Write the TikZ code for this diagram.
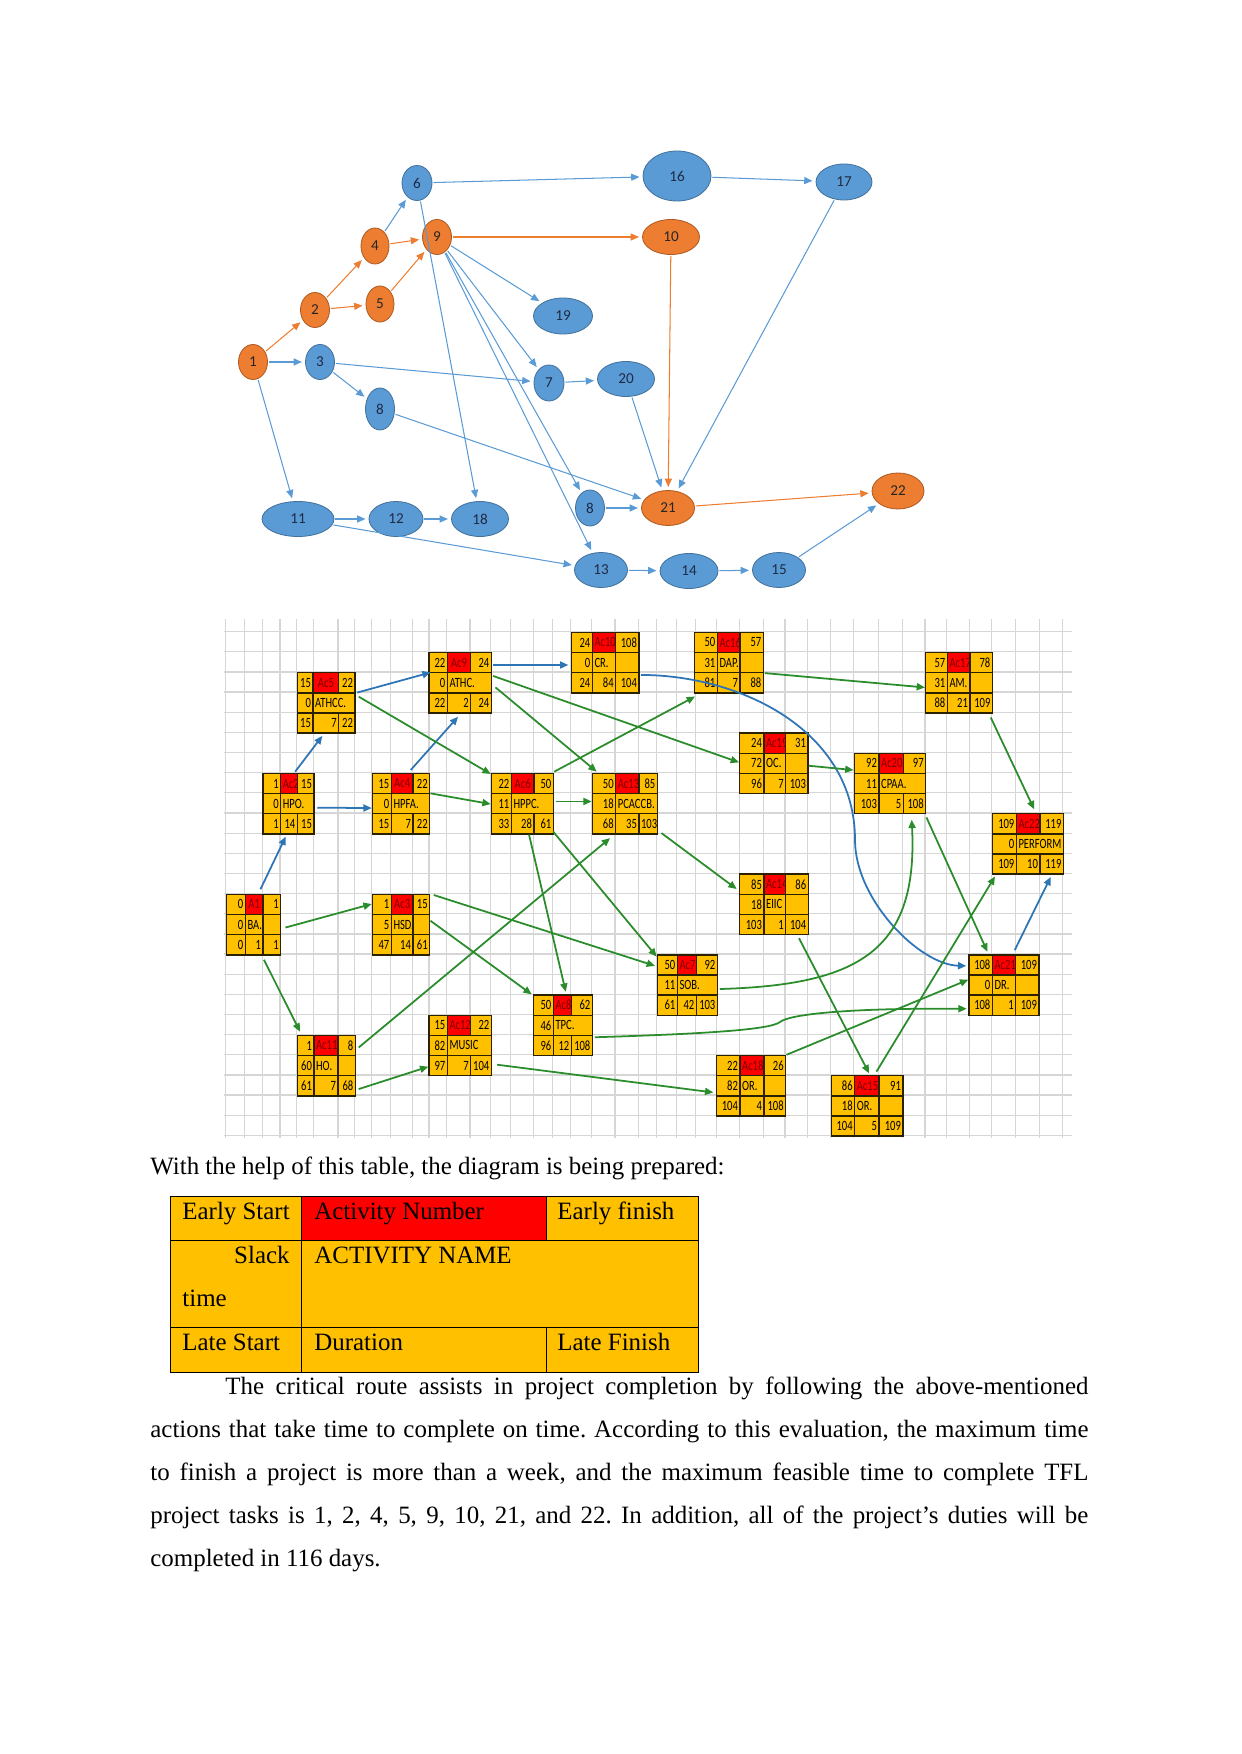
\documentclass[tikz,border=0pt]{standalone}
\usepackage{fontspec}
\setmainfont{Liberation Serif}
\newfontfamily\netfont{Carlito}
\newfontfamily\boxfont[FakeStretch=0.75]{Carlito}
\usetikzlibrary{shapes.geometric,arrows.meta}
\frenchspacing
\newlength\pxl \setlength\pxl{0.0169218cm}
\definecolor{nblue}{HTML}{5B9BD5}
\definecolor{nblueb}{HTML}{41719C}
\definecolor{norange}{HTML}{ED7D31}
\definecolor{noranged}{HTML}{AE5A21}
\definecolor{ntext}{HTML}{1F2A44}
\definecolor{gold}{HTML}{FFC000}
\definecolor{acred}{HTML}{FF0000}
\definecolor{actext}{HTML}{7A0000}
\definecolor{gline}{HTML}{2A8C2A}
\definecolor{bline}{HTML}{2E75B6}
\definecolor{gridc}{HTML}{D6D6D6}
\definecolor{boxln}{HTML}{2B2100}
\def\getfour#1,#2,#3,#4\relax{\def\xa{#1}\def\xb{#2}\def\xc{#3}\def\xd{#4}}
\def\getthree#1/#2/#3\relax{\def\ta{#1}\def\tb{#2}\def\tc{#3}}
\newcommand\actbox[6]{%
  \getfour#2\relax
  \pgfmathsetmacro\wA{(\xb-\xa)*0.48143}%
  \pgfmathsetmacro\wB{(\xc-\xb)*0.48143}%
  \pgfmathsetmacro\wC{(\xd-\xc)*0.48143}%
  \pgfmathsetmacro\wD{(\xd-\xb)*0.48143}%
  \pgfmathsetmacro\tA{\wA-2}%
  \pgfmathsetmacro\tB{\wB-2}%
  \pgfmathsetmacro\tC{\wC-2}%
  \pgfmathsetmacro\tD{\wD-2}%
  \pgfmathsetmacro\yA{#3}%
  \pgfmathsetmacro\yB{#3+20.15}%
  \pgfmathsetmacro\yC{#3+40.3}%
  \getthree#4\relax
  \node[cell, align=right, text width=\tA pt] (#1-es) at (\xa,\yA) {\ta};
  \node[cell, fill=acred, text=actext, align=center, text width=\tB pt] (#1-ac) at (\xb,\yA) {\tb};
  \node[cell, align=right, text width=\tC pt] (#1-ef) at (\xc,\yA) {\tc};
  \getthree#5\relax
  \node[cell, align=right, text width=\tA pt] (#1-sl) at (\xa,\yB) {\ta};
  \ifnum\tc=1
    \node[cell, align=left, text width=\tB pt] (#1-nm) at (\xb,\yB) {\tb};
    \node[cell, text width=\tC pt] (#1-nx) at (\xc,\yB) {};
  \else
    \node[cell, align=left, text width=\tD pt] (#1-nm) at (\xb,\yB) {\tb};
  \fi
  \getthree#6\relax
  \node[cell, align=right, text width=\tA pt] (#1-ls) at (\xa,\yC) {\ta};
  \node[cell, align=right, text width=\tB pt] (#1-du) at (\xb,\yC) {\tb};
  \node[cell, align=right, text width=\tC pt] (#1-lf) at (\xc,\yC) {\tc};
}
\tikzset{
  nb/.style={ellipse, draw=nblueb, fill=nblue, line width=0.4pt, inner sep=0pt, text=ntext, font=\netfont\fontsize{7.3}{8}\selectfont},
  no/.style={ellipse, draw=noranged, fill=norange, line width=0.4pt, inner sep=0pt, text=black!85, font=\netfont\fontsize{7.3}{8}\selectfont},
  eb/.style={draw=nblue, line width=0.5pt, -{Triangle[length=4pt,width=3.4pt]}, shorten >=1.5pt, shorten <=0.5pt},
  eo/.style={draw=norange, line width=0.5pt, -{Triangle[length=4pt,width=3.4pt]}, shorten >=1.5pt, shorten <=0.5pt},
  cell/.style={rectangle, draw=boxln, line width=0.7pt, fill=gold, anchor=north west, minimum height=20.15\pxl, inner xsep=1pt, inner ysep=0pt, font=\boxfont\fontsize{6.8}{7}\selectfont},
  gc/.style={draw=gline, line width=0.85pt, -{Triangle[length=4pt,width=3.4pt]}},
  bc/.style={draw=bline, line width=0.85pt, -{Triangle[length=4pt,width=3.4pt]}},
  gridln/.style={draw=gridc, line width=0.6pt},
  tcell/.style={draw=black, line width=0.5pt, fill=gold, anchor=north west, inner sep=0pt},
  txt/.style={anchor=base west, inner sep=0pt, font=\fontsize{12}{14}\selectfont}
}
\begin{document}
\begin{tikzpicture}[x=0.0169218cm,y=-0.0169218cm]
\useasboundingbox (0,0) rectangle (1241,1754);
% ---------------- network ----------------
\node[no, minimum width=29\pxl, minimum height=35\pxl] (n1) at (253,362) {1};
\node[no, minimum width=29\pxl, minimum height=35\pxl] (n2) at (315,310) {2};
\node[nb, minimum width=29\pxl, minimum height=35\pxl] (n3) at (320,362) {3};
\node[no, minimum width=28\pxl, minimum height=36\pxl] (n4) at (375,246) {4};
\node[no, minimum width=28\pxl, minimum height=36\pxl] (n5) at (380,304) {5};
\node[nb, minimum width=30\pxl, minimum height=35\pxl] (n6) at (417,183) {6};
\node[no, minimum width=29\pxl, minimum height=35\pxl] (n9) at (437,237) {9};
\node[nb, minimum width=68\pxl, minimum height=50\pxl] (n16) at (677,176) {16};
\node[nb, minimum width=56\pxl, minimum height=36\pxl] (n17) at (844,182) {17};
\node[no, minimum width=57\pxl, minimum height=35\pxl] (n10) at (671,237) {10};
\node[nb, minimum width=59\pxl, minimum height=36\pxl] (n19) at (563,316) {19};
\node[nb, minimum width=30\pxl, minimum height=36\pxl] (n7) at (549,383) {7};
\node[nb, minimum width=57\pxl, minimum height=35\pxl] (n20) at (626,379) {20};
\node[nb, minimum width=29\pxl, minimum height=42\pxl] (n8a) at (380,409) {8};
\node[nb, minimum width=72\pxl, minimum height=35\pxl] (n11) at (298,519) {11};
\node[nb, minimum width=54\pxl, minimum height=35\pxl] (n12) at (396,519) {12};
\node[nb, minimum width=57\pxl, minimum height=35\pxl] (n18) at (480,519) {18};
\node[nb, minimum width=29\pxl, minimum height=36\pxl] (n8b) at (590,508) {8};
\node[no, minimum width=53\pxl, minimum height=35\pxl] (n21) at (668,508) {21};
\node[nb, minimum width=53\pxl, minimum height=35\pxl] (n13) at (601,570) {13};
\node[nb, minimum width=58\pxl, minimum height=35\pxl] (n14) at (689,571) {14};
\node[nb, minimum width=53\pxl, minimum height=35\pxl] (n15) at (779,570) {15};
\node[no, minimum width=52\pxl, minimum height=36\pxl] (n22) at (898,491) {22};
\draw[eo] (n1) -- (n2);
\draw[eb] (n1) -- (n3);
\draw[eb] (n1) -- (n11);
\draw[eo] (n2) -- (n4);
\draw[eo] (n2) -- (n5);
\draw[eb] (n4) -- (n6);
\draw[eo] (n4) -- (n9);
\draw[eo] (n5) -- (n9);
\draw[eb] (n6) -- (n16);
\draw[eb] (n6) -- (n18);
\draw[eb] (n16) -- (n17);
\draw[eo] (n9) -- (n10);
\draw[eb] (n9) -- (n19);
\draw[eb] (n9) -- (n7);
\draw[eb] (n9) -- (n8b);
\draw[eb] (n9) -- (n13);
\draw[eb] (n3) -- (n7);
\draw[eb] (n3) -- (n8a);
\draw[eb] (n7) -- (n20);
\draw[eb] (n20) -- (n21);
\draw[eo] (n10) -- (n21);
\draw[eb] (n17) -- (n21);
\draw[eb] (n8a) -- (n21);
\draw[eb] (n8b) -- (n21);
\draw[eo] (n21) -- (n22);
\draw[eb] (n11) -- (n12);
\draw[eb] (n12) -- (n18);
\draw[eb] (n11) -- (n13);
\draw[eb] (n13) -- (n14);
\draw[eb] (n14) -- (n15);
\draw[eb] (n15) -- (n22);
% ---------------- grid ----------------
\begin{scope}
\clip (224,619) rectangle (1072,1138);
\foreach \x in {208,225.7,244.7,262.3,280,296.7,313.3,338,354.3,371.7,390.7,412.3,429,446.7,470,490.7,510.7,533.3,552.7,570.7,591.7,615,638.3,656.7,676.7,695.7,716.3,739.2,763.3,785,807.5,830.7,853.7,878.3,902.5,925,946.7,969.3,991.7,1015.5,1039.3,1062.7,1085}
  \draw[gridln] (\x,619) -- (\x,1138);
\foreach \k in {0,...,26}
  \draw[gridln] (224,{611.5+20.15*\k}) -- (1072,{611.5+20.15*\k});
\end{scope}
\actbox{a5}{296.7,312.3,338,354.3}{671.95}{15/Ac5/22}{0/ATHCC./0}{15/7/22}
\actbox{a9}{428.3,446.7,470,490.7}{651.8}{22/Ac9/24}{0/ATHC./0}{22/2/24}
\actbox{a10}{570.7,591.7,615,638.3}{631.65}{24/Ac10/108}{0/CR./1}{24/84/104}
\actbox{a16}{694,716.7,739.3,762.7}{631.65}{50/Ac16/57}{31/DAP./1}{81/7/88}
\actbox{a17}{925,946.7,969.3,991.7}{651.8}{57/Ac17/78}{31/AM./1}{88/21/109}
\actbox{a19}{739,763.3,785,807.3}{732.4}{24/Ac19/31}{72/OC./1}{96/7/103}
\actbox{a20}{853.5,878.3,902.7,925}{752.55}{92/Ac20/97}{11/CPAA./0}{103/5/108}
\actbox{a2}{262.3,280,296.7,313.3}{772.7}{1/Ac2/15}{0/HPO./0}{1/14/15}
\actbox{a4}{371.7,390.7,412.3,429}{772.7}{15/Ac4/22}{0/HPFA./0}{15/7/22}
\actbox{a6}{490.7,510.7,533.3,552.7}{772.7}{22/Ac6/50}{11/HPPC./0}{33/28/61}
\actbox{a13}{591.7,615,638.3,656.7}{772.7}{50/Ac13/85}{18/PCACCB./0}{68/35/103}
\actbox{a22}{991.7,1015.7,1039.3,1062.7}{813}{109/Ac22/119}{0/PERFORM/0}{109/10/119}
\actbox{a1}{225.7,244.7,262.3,280}{893.6}{0/A1/1}{0/BA./1}{0/1/1}
\actbox{a3}{371.7,390.7,412.3,429}{893.6}{1/Ac3/15}{5/HSD./1}{47/14/61}
\actbox{a14}{739,763.3,785,807.5}{873.45}{85/Ac14/86}{18/EIIC/1}{103/1/104}
\actbox{a21}{968.3,991.7,1015,1038.3}{954.05}{108/Ac21/109}{0/DR./1}{108/1/109}
\actbox{a7}{656.7,676.7,695.7,716.7}{954.05}{50/Ac7/92}{11/SOB./0}{61/42/103}
\actbox{a8}{532.7,552.7,570.7,591.7}{994.35}{50/Ac8/62}{46/TPC./0}{96/12/108}
\actbox{a12}{428.3,446.7,470,490.7}{1014.5}{15/Ac12/22}{82/MUSIC/0}{97/7/104}
\actbox{a11}{296.7,313.3,337.3,354.7}{1034.65}{1/Ac11/8}{60/HO./1}{61/7/68}
\actbox{a18}{716,739.3,763.3,785}{1054.8}{22/Ac18/26}{82/OR./1}{104/4/108}
\actbox{a15}{830.7,854,878.3,902.3}{1074.95}{86/Ac15/91}{18/OR./1}{104/5/109}
% blue connectors
\draw[bc] ([shift={(-3,-1)}]a2-ac.north east) -- ([shift={(-3.5,2)}]a5-du.south);
\draw[bc] ([shift={(2.5,4)}]a2-nm.east) -- ([shift={(0,4.4)}]a4-sl.west);
\draw[bc] ([shift={(1.5,-1)}]a5-ef.south east) -- ([shift={(2.4,-1)}]a9-es.south west);
\draw[bc] ([shift={(-3,-2.7)}]a4-ac.north east) -- ([shift={(-1,3)}]a9-du.south);
\draw[bc] ([shift={(1,2.4)}]a9-ef.east) -- ([shift={(-2.4,2.4)}]a10-sl.west);
\draw[bc] ([shift={(1,3)}]a10-lf.north east) .. controls (740,675) and (855,730) .. (855,840) .. controls (855,900) and (920,965) .. ([shift={(-2,1)}]a21-es.west);
\draw[bc] ([shift={(-1.7,-4)}]a21-ac.north east) -- ([shift={(-1,2)}]a22-lf.south);
\draw[bc] ([shift={(-3.3,-4.3)}]a1-ac.north east) -- ([shift={(5.7,2)}]a2-du.south west);
% green connectors
\draw[gc] ([shift={(3,4.6)}]a5-nm.north east) -- ([shift={(0,1.3)}]a6-es.north west);
\draw[gc] ([shift={(0,0.5)}]a4-nm.north east) -- ([shift={(0,0.4)}]a6-sl.west);
\draw[gc] ([shift={(1,4)}]a9-nm.north east) -- ([shift={(0,-1)}]a19-sl.west);
\draw[gc] ([shift={(3.3,4.6)}]a9-nm.east) -- ([shift={(5,-1)}]a13-es.north west);
\draw[gc] ([shift={(0,-1)}]a6-ef.north east) -- ([shift={(1,3)}]a16-ls.south west);
\draw[gc] ([shift={(2.3,-2.2)}]a6-nm.east) -- ([shift={(0,-2.2)}]a13-sl.west);
\draw[gc] ([shift={(0.6,-0.3)}]a16-nx.south east) -- ([shift={(0,4.7)}]a17-sl.west);
\draw[gc] ([shift={(0,2.4)}]a19-nx.east) -- ([shift={(0,6.7)}]a20-es.west);
\draw[gc] ([shift={(9.5,3.75)}]a17-lf.south) -- ([shift={(-6.6,-3.7)}]a22-ac.north east);
\draw[gc] ([shift={(3.3,-1.5)}]a13-lf.south east) -- ([shift={(-2.3,4.8)}]a14-es.west);
\draw[gc] ([shift={(2.6,2)}]a11-ef.east) -- ([shift={(6,3.5)}]a13-ls.south);
\draw[gc] ([shift={(-1,-3)}]a6-lf.south east) -- ([shift={(0,2.6)}]a7-es.north west);
\draw[gc] ([shift={(3.3,1.4)}]a3-ef.north east) -- ([shift={(-1.7,1)}]a7-es.west);
\draw[gc] ([shift={(1.6,4)}]a7-nm.east) .. controls (860,985) and (918,950) .. ([shift={(9,5.3)}]a20-lf.south west);
\draw[gc] ([shift={(2,2.8)}]a14-lf.south) -- ([shift={(2.2,-1.6)}]a15-ac.north);
\draw[gc] ([shift={(0,3)}]a20-lf.south east) -- ([shift={(-5.7,-2.3)}]a21-es.north east);
\draw[gc] ([shift={(-3.3,-3.3)}]a15-ac.north east) -- ([shift={(3.3,1.5)}]a22-ls.south west);
\draw[gc] (a18-ef.north east) -- ([shift={(0,-5.3)}]a21-sl.west);
\draw[gc] ([shift={(1.6,2.6)}]a8-lf.north east) .. controls (700,1034) and (770,1030) .. (780,1022) .. controls (790,1014) and (850,1008) .. ([shift={(-1.6,3.6)}]a21-ls.west);
\draw[gc] ([shift={(5,-0.9)}]a12-lf.east) -- ([shift={(-2.7,6.7)}]a18-sl.west);
\draw[gc] ([shift={(2.6,3.3)}]a11-lf.east) -- ([shift={(0,1.1)}]a12-ls.west);
\draw[gc] ([shift={(1.7,4.3)}]a1-lf.south west) -- ([shift={(3.3,-3)}]a11-es.north west);
\draw[gc] ([shift={(4,3)}]a1-nx.east) -- ([shift={(0,-0.4)}]a3-es.west);
\draw[gc] ([shift={(0,-3.8)}]a3-nx.east) -- ([shift={(-1,0)}]a8-es.north west);
\draw[gc] ([shift={(6.3,0)}]a6-du.south) -- ([shift={(3.3,-2.6)}]a8-ac.north);
% ---------------- text and legend table ----------------
\node[txt] (intro) at (150,1174) {With the help of this table, the diagram is being prepared:};
\node[tcell, minimum width=131\pxl, minimum height=44\pxl] (t11) at (170,1196) {};
\node[tcell, fill=acred, minimum width=244.5\pxl, minimum height=44\pxl] (t12) at (301,1196) {};
\node[tcell, minimum width=152.5\pxl, minimum height=44\pxl] (t13) at (545.5,1196) {};
\node[tcell, minimum width=131\pxl, minimum height=87\pxl] (t21) at (170,1240) {};
\node[tcell, minimum width=397\pxl, minimum height=87\pxl] (t22) at (301,1240) {};
\node[tcell, minimum width=131\pxl, minimum height=45\pxl] (t31) at (170,1327) {};
\node[tcell, minimum width=244.5\pxl, minimum height=45\pxl] (t32) at (301,1327) {};
\node[tcell, minimum width=152.5\pxl, minimum height=45\pxl] (t33) at (545.5,1327) {};
\node[txt] (l11) at (182,1219) {Early Start};
\node[txt] (l12) at (314,1219) {Activity Number};
\node[txt] (l13) at (557,1219) {Early finish};
\node[txt, anchor=base east] (l21) at (290,1263) {Slack};
\node[txt] (l21b) at (182,1306) {time};
\node[txt] (l22) at (314,1263) {ACTIVITY NAME};
\node[txt] (l31) at (182,1350) {Late Start};
\node[txt] (l32) at (314,1350) {Duration};
\node[txt] (l33) at (557,1350) {Late Finish};
\node[txt] (p1) at (225,1394) {\makebox[863\pxl][s]{The critical route assists in project completion by following the above-mentioned}};
\node[txt] (p2) at (150,1437) {\makebox[938\pxl][s]{actions that take time to complete on time. According to this evaluation, the maximum time}};
\node[txt] (p3) at (150,1480) {\makebox[938\pxl][s]{to finish a project is more than a week, and the maximum feasible time to complete TFL}};
\node[txt] (p4) at (150,1523) {\makebox[938\pxl][s]{project tasks is 1, 2, 4, 5, 9, 10, 21, and 22. In addition, all of the project's duties will be}};
\node[txt] (p5) at (150,1566) {completed in 116 days.};
\end{tikzpicture}
\end{document}
